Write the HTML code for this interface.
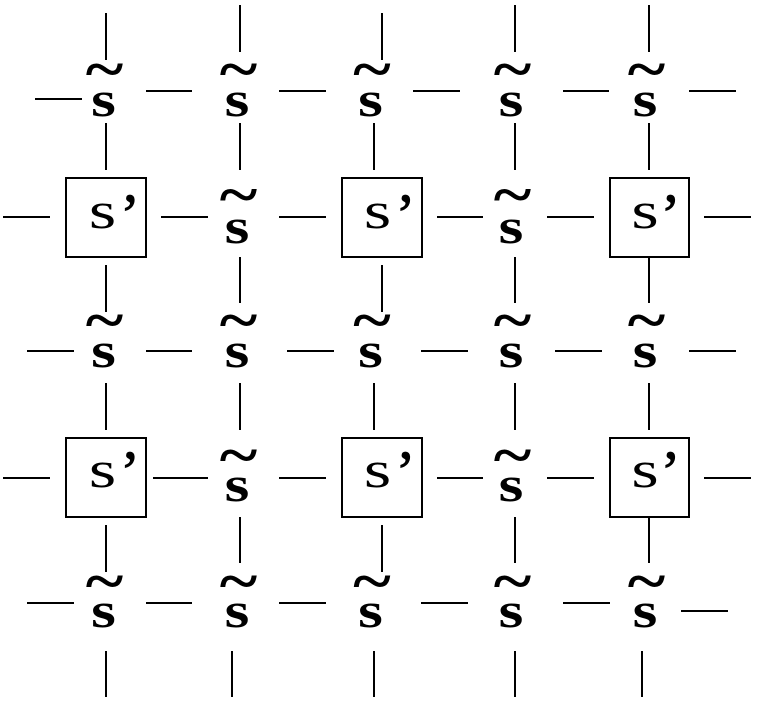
<!DOCTYPE html>
<html><head><meta charset="utf-8"><style>
html,body{margin:0;padding:0;background:#fff;}
svg{display:block;}
.t{font-family:"Liberation Serif",serif;fill:#000;}
</style></head><body>
<svg width="758" height="702" viewBox="0 0 758 702" xmlns="http://www.w3.org/2000/svg">
<g stroke="#000" stroke-width="2" fill="none">
<!-- col1 verticals -->
<line x1="106" y1="13" x2="106" y2="60"/>
<line x1="106" y1="123" x2="106" y2="170"/>
<line x1="106" y1="265" x2="106" y2="312"/>
<line x1="106" y1="383" x2="106" y2="430"/>
<line x1="106" y1="525" x2="106" y2="572"/>
<line x1="106" y1="651" x2="106" y2="697"/>
<!-- col2 -->
<line x1="240" y1="5" x2="240" y2="52"/>
<line x1="240" y1="123" x2="240" y2="170"/>
<line x1="240" y1="257" x2="240" y2="303"/>
<line x1="240" y1="383" x2="240" y2="430"/>
<line x1="240" y1="517" x2="240" y2="563"/>
<line x1="232" y1="651" x2="232" y2="697"/>
<!-- col3 -->
<line x1="382" y1="13" x2="382" y2="60"/>
<line x1="374" y1="123" x2="374" y2="170"/>
<line x1="382" y1="265" x2="382" y2="312"/>
<line x1="374" y1="383" x2="374" y2="430"/>
<line x1="382" y1="525" x2="382" y2="572"/>
<line x1="374" y1="651" x2="374" y2="697"/>
<!-- col4 -->
<line x1="515" y1="5" x2="515" y2="52"/>
<line x1="515" y1="123" x2="515" y2="170"/>
<line x1="515" y1="257" x2="515" y2="303"/>
<line x1="515" y1="383" x2="515" y2="430"/>
<line x1="515" y1="517" x2="515" y2="563"/>
<line x1="515" y1="651" x2="515" y2="697"/>
<!-- col5 -->
<line x1="649" y1="5" x2="649" y2="52"/>
<line x1="649" y1="123" x2="649" y2="170"/>
<line x1="649" y1="257" x2="649" y2="303"/>
<line x1="649" y1="383" x2="649" y2="430"/>
<line x1="649" y1="517" x2="649" y2="563"/>
<line x1="642" y1="651" x2="642" y2="697"/>
<!-- row1 horizontals -->
<line x1="35" y1="99" x2="82" y2="99"/>
<line x1="146" y1="91" x2="192" y2="91"/>
<line x1="279" y1="91" x2="326" y2="91"/>
<line x1="413" y1="91" x2="460" y2="91"/>
<line x1="563" y1="91" x2="609" y2="91"/>
<line x1="689" y1="91" x2="736" y2="91"/>
<!-- row2 -->
<line x1="3" y1="217" x2="50" y2="217"/>
<line x1="161" y1="217" x2="208" y2="217"/>
<line x1="279" y1="217" x2="326" y2="217"/>
<line x1="437" y1="217" x2="483" y2="217"/>
<line x1="547" y1="217" x2="594" y2="217"/>
<line x1="704" y1="217" x2="751" y2="217"/>
<!-- row3 -->
<line x1="27" y1="351" x2="74" y2="351"/>
<line x1="146" y1="351" x2="192" y2="351"/>
<line x1="287" y1="351" x2="334" y2="351"/>
<line x1="421" y1="351" x2="468" y2="351"/>
<line x1="555" y1="351" x2="602" y2="351"/>
<line x1="689" y1="351" x2="736" y2="351"/>
<!-- row4 -->
<line x1="3" y1="478" x2="50" y2="478"/>
<line x1="153" y1="478" x2="208" y2="478"/>
<line x1="279" y1="478" x2="326" y2="478"/>
<line x1="437" y1="478" x2="483" y2="478"/>
<line x1="547" y1="478" x2="594" y2="478"/>
<line x1="704" y1="478" x2="751" y2="478"/>
<!-- row5 -->
<line x1="27" y1="603" x2="74" y2="603"/>
<line x1="146" y1="603" x2="192" y2="603"/>
<line x1="279" y1="603" x2="326" y2="603"/>
<line x1="421" y1="603" x2="468" y2="603"/>
<line x1="563" y1="603" x2="610" y2="603"/>
<line x1="681" y1="611" x2="728" y2="611"/>
<!-- boxes -->
<rect x="66" y="178" width="80" height="79"/>
<rect x="342" y="178" width="80" height="79"/>
<rect x="610" y="178" width="79" height="79"/>
<rect x="66" y="438" width="80" height="79"/>
<rect x="342" y="438" width="80" height="79"/>
<rect x="610" y="438" width="79" height="79"/>
</g>

<!-- box labels s' -->
<g class="t">
<g font-size="52" text-anchor="middle">
<text transform="translate(102.5,228) scale(1.35,1)">s</text>
<text transform="translate(377.5,228) scale(1.35,1)">s</text>
<text transform="translate(645,228) scale(1.35,1)">s</text>
<text transform="translate(102.5,487) scale(1.35,1)">s</text>
<text transform="translate(377.5,487) scale(1.35,1)">s</text>
<text transform="translate(645,487) scale(1.35,1)">s</text>
</g>
<g font-size="60" text-anchor="middle" stroke="#000" stroke-width="0.8">
<text x="130" y="235">’</text>
<text x="405.5" y="235">’</text>
<text x="670.5" y="235">’</text>
<text x="130" y="492">’</text>
<text x="405.5" y="492">’</text>
<text x="670.5" y="492">’</text>
</g>
</g>

<!-- s-tilde nodes: s glyphs -->
<g class="t" font-size="50" font-weight="bold" text-anchor="middle">
<text transform="translate(103.5,116) scale(1.27,1)">s</text>
<text transform="translate(237,116) scale(1.27,1)">s</text>
<text transform="translate(370.5,116) scale(1.27,1)">s</text>
<text transform="translate(511,116) scale(1.27,1)">s</text>
<text transform="translate(645,116) scale(1.27,1)">s</text>

<text transform="translate(237,243) scale(1.27,1)">s</text>
<text transform="translate(511,243) scale(1.27,1)">s</text>

<text transform="translate(103.5,367) scale(1.27,1)">s</text>
<text transform="translate(237,367) scale(1.27,1)">s</text>
<text transform="translate(370.5,367) scale(1.27,1)">s</text>
<text transform="translate(511,367) scale(1.27,1)">s</text>
<text transform="translate(645,367) scale(1.27,1)">s</text>

<text transform="translate(237,501) scale(1.27,1)">s</text>
<text transform="translate(511,501) scale(1.27,1)">s</text>

<text transform="translate(103.5,627) scale(1.27,1)">s</text>
<text transform="translate(237,627) scale(1.27,1)">s</text>
<text transform="translate(370.5,627) scale(1.27,1)">s</text>
<text transform="translate(511,627) scale(1.27,1)">s</text>
<text transform="translate(645,627) scale(1.27,1)">s</text>
</g>

<!-- tildes -->
<g class="t" font-size="40" font-weight="bold" text-anchor="middle">
<text y="13.2" transform="translate(104.5,69) scale(1.8,1.5)">~</text>
<text y="13.2" transform="translate(238.5,69) scale(1.8,1.5)">~</text>
<text y="13.2" transform="translate(372,69) scale(1.8,1.5)">~</text>
<text y="13.2" transform="translate(512.5,69) scale(1.8,1.5)">~</text>
<text y="13.2" transform="translate(646.5,69) scale(1.8,1.5)">~</text>

<text y="13.2" transform="translate(238.5,194.5) scale(1.8,1.5)">~</text>
<text y="13.2" transform="translate(512.5,194.5) scale(1.8,1.5)">~</text>

<text y="13.2" transform="translate(104.5,320) scale(1.8,1.5)">~</text>
<text y="13.2" transform="translate(238.5,320) scale(1.8,1.5)">~</text>
<text y="13.2" transform="translate(372,320) scale(1.8,1.5)">~</text>
<text y="13.2" transform="translate(512.5,320) scale(1.8,1.5)">~</text>
<text y="13.2" transform="translate(646.5,320) scale(1.8,1.5)">~</text>

<text y="13.2" transform="translate(238.5,455) scale(1.8,1.5)">~</text>
<text y="13.2" transform="translate(512.5,455) scale(1.8,1.5)">~</text>

<text y="13.2" transform="translate(104.5,581) scale(1.8,1.5)">~</text>
<text y="13.2" transform="translate(238.5,581) scale(1.8,1.5)">~</text>
<text y="13.2" transform="translate(372,581) scale(1.8,1.5)">~</text>
<text y="13.2" transform="translate(512.5,581) scale(1.8,1.5)">~</text>
<text y="13.2" transform="translate(646.5,581) scale(1.8,1.5)">~</text>
</g>
</svg>
</body></html>
